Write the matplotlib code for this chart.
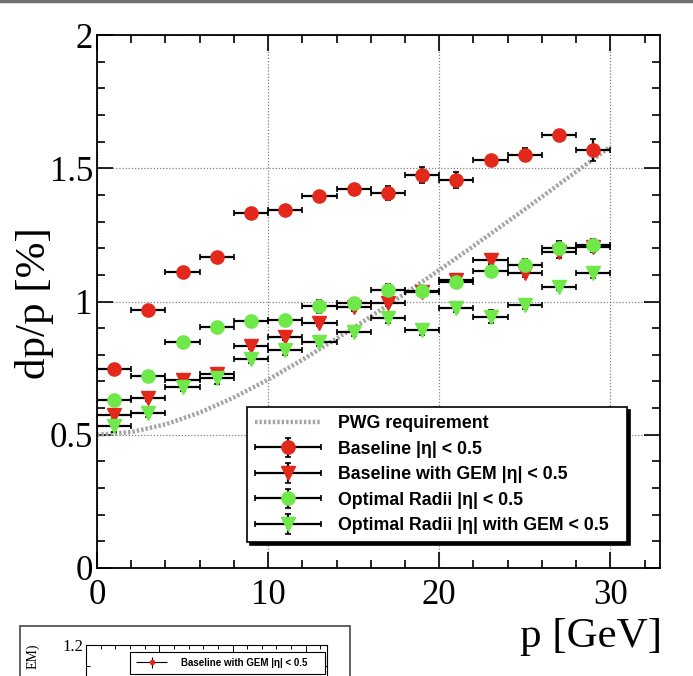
import matplotlib
matplotlib.use("Agg")
import matplotlib.pyplot as plt
from matplotlib.lines import Line2D
from matplotlib.patches import Rectangle
from matplotlib.ticker import MultipleLocator
from matplotlib.legend_handler import HandlerErrorbar

# ---------------- data ----------------
p = [1, 3, 5, 7, 9, 11, 13, 15, 17, 19, 21, 23, 25, 27, 29]
p_err = [1, 1, 1, 1, 1, 1, 1, 1, 1, 1, 1, 1, 1, 1, 1]

baseline = [0.745, 0.967, 1.110, 1.167, 1.331, 1.344, 1.397, 1.421, 1.407,
            1.475, 1.457, 1.532, 1.551, 1.624, 1.568]
baseline_err = [0.01, 0.01, 0.01, 0.02, 0.015, 0.01, 0.015, 0.02, 0.025,
                0.03, 0.03, 0.01, 0.025, 0.01, 0.04]

baseline_gem = [0.573, 0.637, 0.706, 0.728, 0.833, 0.866, 0.918, 0.978, 0.993,
                1.035, 1.080, 1.155, 1.106, 1.184, 1.205]
baseline_gem_err = [0.015, 0.01, 0.01, 0.01, 0.01, 0.01, 0.01, 0.015, 0.01,
                    0.015, 0.015, 0.015, 0.015, 0.02, 0.02]

optimal = [0.632, 0.722, 0.847, 0.904, 0.926, 0.929, 0.982, 0.993, 1.045,
           1.039, 1.072, 1.116, 1.138, 1.202, 1.211]
optimal_err = [0.01, 0.015, 0.02, 0.015, 0.01, 0.01, 0.025, 0.02, 0.02,
               0.02, 0.015, 0.02, 0.02, 0.025, 0.025]

optimal_gem = [0.531, 0.581, 0.678, 0.712, 0.786, 0.818, 0.847, 0.885, 0.938,
               0.893, 0.977, 0.943, 0.988, 1.053, 1.107]
optimal_gem_err = [0.02, 0.015, 0.015, 0.02, 0.015, 0.02, 0.015, 0.015, 0.02,
                   0.02, 0.015, 0.025, 0.015, 0.01, 0.02]

pwg_p = [0, 2, 4, 6, 8, 10, 12, 15, 18, 20, 22, 25, 28, 30]
pwg_req = [0.500, 0.510, 0.539, 0.583, 0.640, 0.707, 0.781, 0.901, 1.030,
           1.118, 1.208, 1.346, 1.487, 1.581]

xticks = [0, 10, 20, 30]
yticks = [0, 0.5, 1, 1.5, 2]
ytick_labels = ["0", "0.5", "1", "1.5", "2"]

labels = ["PWG requirement",
          "Baseline |η| < 0.5",
          "Baseline with GEM |η| < 0.5",
          "Optimal Radii |η| < 0.5",
          "Optimal Radii |η| with GEM < 0.5"]

RED = "#e3281c"
GREEN = "#6fe84a"

W, H = 693, 676
fig = plt.figure(figsize=(W / 100, H / 100), dpi=100)
fig.patch.set_facecolor("white")


def fx(px):
    return px / W


def fy(py):
    return 1 - py / H


ax = fig.add_axes([fx(97), fy(568), fx(660) - fx(97), fy(35) - fy(568)])
ax.set_xlim(0, 32.9)
ax.set_ylim(0, 2)

serif = "Liberation Serif"
sans = "Liberation Sans"

ax.set_xticks(xticks)
ax.set_xticklabels([str(t) for t in xticks], fontfamily=serif, fontsize=25)
ax.set_yticks(yticks)
ax.set_yticklabels(ytick_labels, fontfamily=serif, fontsize=25)
ax.xaxis.set_minor_locator(MultipleLocator(2))
ax.yaxis.set_minor_locator(MultipleLocator(0.1))
ax.tick_params(which="both", direction="in", top=True, right=True, width=1.2)
ax.tick_params(which="major", length=11.5)
ax.tick_params(which="minor", length=5.5)
ax.tick_params(axis="x", which="major", pad=8)
ax.tick_params(axis="y", which="major", pad=3)
for s in ax.spines.values():
    s.set_linewidth(1.3)

ax.grid(True, which="major", linestyle=(0, (1, 1.5)), color="#808080", linewidth=0.9)
ax.set_axisbelow(True)

# PWG requirement
pwg_line, = ax.plot(pwg_p, pwg_req, color="#a5a5a5", linewidth=3.2,
                    linestyle=(0, (0.55, 0.45)), zorder=2)

style = dict(ecolor="black", elinewidth=1.6, capsize=2, capthick=1.2)
h1 = ax.errorbar(p, baseline, yerr=baseline_err, xerr=p_err, fmt="o", color=RED,
                 ms=9.5, mec=RED, zorder=3, **style)
h2 = ax.errorbar(p, baseline_gem, yerr=baseline_gem_err, xerr=p_err, fmt="v",
                 color=RED, ms=10, mec=RED, zorder=4, **style)
h3 = ax.errorbar(p, optimal, yerr=optimal_err, xerr=p_err, fmt="o", color=GREEN,
                 ms=9.5, mec=GREEN, zorder=5, **style)
h4 = ax.errorbar(p, optimal_gem, yerr=optimal_gem_err, xerr=p_err, fmt="v",
                 color=GREEN, ms=10, mec=GREEN, zorder=6, **style)

hl = 3.7
herr = HandlerErrorbar(xerr_size=hl / 2, yerr_size=0.55)
leg = ax.legend([pwg_line, h1, h2, h3, h4], labels,
                loc="upper left",
                bbox_to_anchor=(fx(247), fy(542), fx(627) - fx(247), fy(407) - fy(542)),
                bbox_transform=fig.transFigure, mode="expand",
                prop={"family": sans, "weight": "bold", "size": 12.8},
                frameon=True, fancybox=False, framealpha=1, edgecolor="black",
                shadow={"color": "black", "alpha": 1},
                handlelength=hl, handletextpad=0.95, labelspacing=0.48,
                borderpad=0.45, borderaxespad=0, numpoints=1,
                handler_map={h1: herr, h2: herr, h3: herr, h4: herr})
leg.get_frame().set_linewidth(1.2)
leg.set_zorder(10)

# axis titles
fig.text(fx(34), fy(303), "dp/p [%]", rotation=90, ha="center", va="center",
         fontfamily=serif, fontsize=31)
fig.text(fx(662), fy(637), "p [GeV]", ha="right", va="center",
         fontfamily=serif, fontsize=31)

# top border line
fig.add_artist(Line2D([0, 1], [fy(1), fy(1)], color="#707070", linewidth=2.5,
                      transform=fig.transFigure))

# ---------------- partial inset chart at bottom-left ----------------
fig.add_artist(Rectangle((fx(20), fy(700)), fx(350) - fx(20), fy(626) - fy(700),
                         transform=fig.transFigure, facecolor="white",
                         edgecolor="#555555", linewidth=1.3, zorder=5))
ax2 = fig.add_axes([fx(86), fy(900), fx(327) - fx(86), fy(645) - fy(900)], zorder=6)
ax2.set_xlim(0, 32.9)
ax2.set_ylim(0.6, 1.2)
ax2.set_xticks(xticks)
ax2.set_xticklabels([])
ax2.xaxis.set_minor_locator(MultipleLocator(2))
ax2.set_yticks([1.2])
ax2.set_yticklabels(["1.2"], fontfamily=serif, fontsize=12)
ax2.yaxis.set_minor_locator(MultipleLocator(0.05))
ax2.tick_params(which="both", direction="in", top=True, right=True, width=0.7)
ax2.tick_params(which="major", length=6, pad=2)
ax2.tick_params(which="minor", length=3)
ax2.tick_params(axis="x", labelbottom=False)
for s in ax2.spines.values():
    s.set_linewidth(0.8)
hi = ax2.errorbar([], [], yerr=[], xerr=[], fmt="o", color=RED, ms=3,
                  ecolor="black", elinewidth=0.8, capsize=1.5, capthick=0.7)
herr2 = HandlerErrorbar(xerr_size=1.6, yerr_size=0.6)
leg2 = ax2.legend([hi], ["Baseline with GEM |η| < 0.5"], loc="upper left",
                  bbox_to_anchor=(fx(130), fy(720), fx(325) - fx(130), fy(652) - fy(720)),
                  bbox_transform=fig.transFigure, mode="expand",
                  prop={"family": sans, "weight": "bold", "size": 7},
                  frameon=True, fancybox=False, framealpha=1, edgecolor="black",
                  handlelength=3.3, handletextpad=1.3, borderpad=0.6,
                  borderaxespad=0, numpoints=1, handler_map={hi: herr2})
leg2.get_frame().set_linewidth(0.8)
fig.text(fx(33), fy(656), "EM)", rotation=90, ha="center", va="center",
         fontfamily=serif, fontsize=10, zorder=7)

fig.savefig("out.png", dpi=100)
